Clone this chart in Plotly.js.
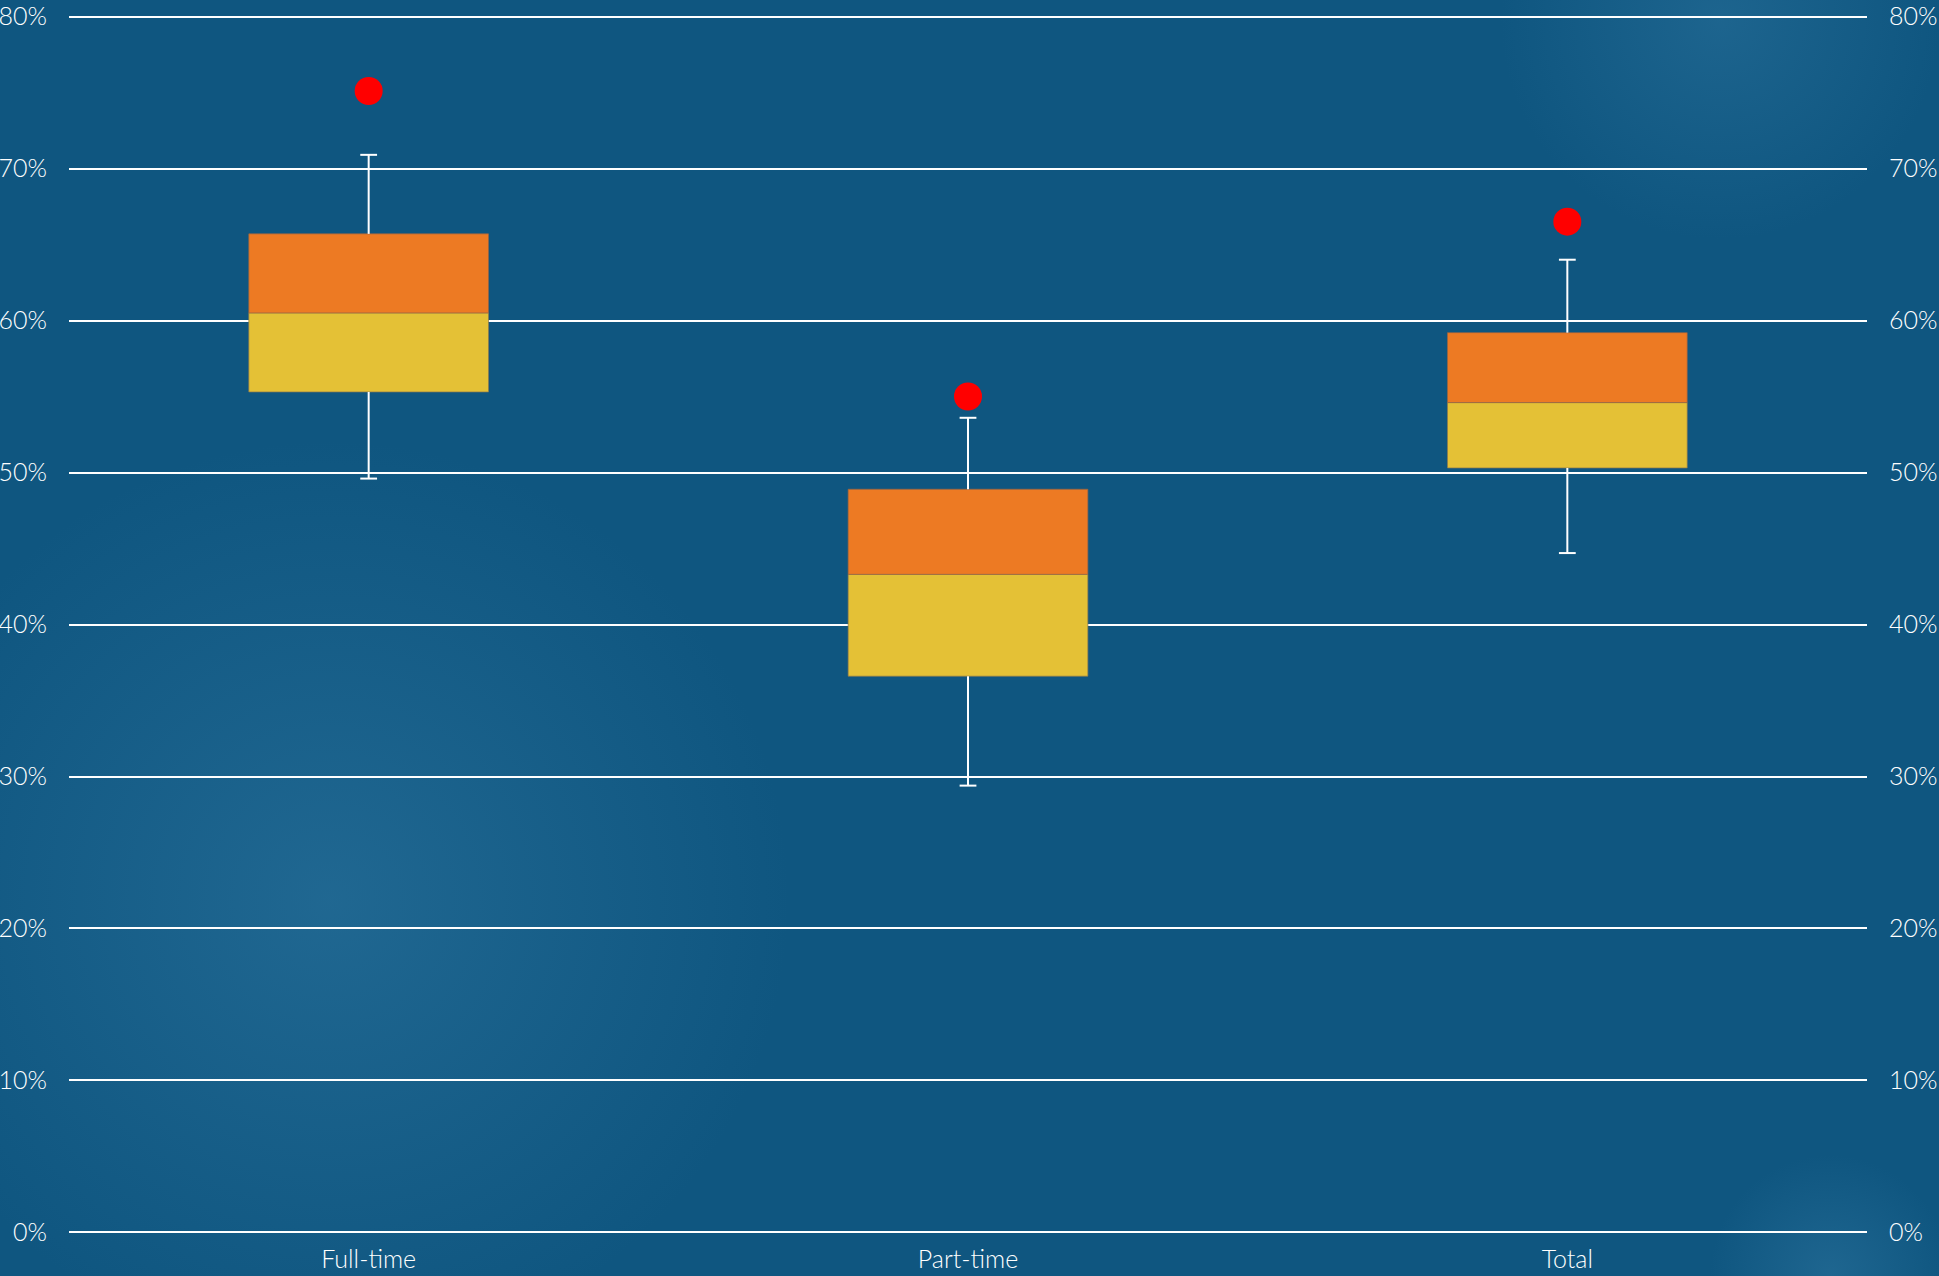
<!DOCTYPE html>
<html>
<head>
<meta charset="utf-8">
<script src="https://cdn.plot.ly/plotly-3.0.1.min.js"></script>
<style>
  html, body { margin: 0; padding: 0; width: 1939px; height: 1276px; overflow: hidden; }
  body {
    background:
      radial-gradient(circle at 330px 900px, rgba(46,118,160,0.55) 0px, rgba(46,118,160,0) 460px),
      radial-gradient(circle at 1720px 20px, rgba(46,118,160,0.45) 0px, rgba(46,118,160,0) 220px),
      radial-gradient(circle at 1830px 1275px, rgba(46,118,160,0.5) 0px, rgba(46,118,160,0) 120px),
      #0f5680;
  }
  #chart { width: 1939px; height: 1276px; }
</style>
</head>
<body>
<div id="chart"></div>
<script>
// Distribution per employment type (shares)
const categories   = ['Full-time', 'Part-time', 'Total'];
const lowerWhisker = [0.496, 0.294, 0.447];
const q1           = [0.553, 0.366, 0.503];
const median       = [0.605, 0.433, 0.546];
const q3           = [0.657, 0.489, 0.592];
const upperWhisker = [0.709, 0.536, 0.640];
const outliers     = [0.751, 0.550, 0.665];

const yTickVals = [0, 0.1, 0.2, 0.3, 0.4, 0.5, 0.6, 0.7, 0.8];
const yTickText = ['0%', '10%', '20%', '30%', '40%', '50%', '60%', '70%', '80%'];
// small padding so the 0% and 80% gridlines stay inside the plot area
const yRange = [-0.001, 0.801];

const ORANGE = '#ed7a23';
const YELLOW = '#e4c136';
const WHITE = '#ffffff';
const FONT = 'Lato, "Open Sans", sans-serif';

// lower half of each box: Q1 -> median
const lowerHalf = {
  type: 'bar', x: categories,
  base: q1, y: q1.map((v, i) => median[i] - v),
  width: 0.4,
  marker: { color: YELLOW, line: { color: 'rgba(140,120,80,0.7)', width: 1 } },
  hoverinfo: 'skip', showlegend: false
};
// upper half of each box: median -> Q3
const upperHalf = {
  type: 'bar', x: categories,
  base: median, y: median.map((v, i) => q3[i] - v),
  width: 0.4,
  marker: { color: ORANGE, line: { color: 'rgba(150,100,70,0.7)', width: 1 } },
  hoverinfo: 'skip', showlegend: false
};

// whisker stems (Q3 -> upper, Q1 -> lower)
const stemX = [], stemY = [];
categories.forEach((c, i) => {
  stemX.push(c, c, null, c, c, null);
  stemY.push(q3[i], upperWhisker[i], null, q1[i], lowerWhisker[i], null);
});
const stems = {
  type: 'scatter', mode: 'lines', x: stemX, y: stemY,
  line: { color: WHITE, width: 2 }, connectgaps: false,
  hoverinfo: 'skip', showlegend: false
};
// whisker caps
const caps = {
  type: 'scatter', mode: 'markers',
  x: categories.concat(categories),
  y: upperWhisker.concat(lowerWhisker),
  marker: { symbol: 'line-ew', size: 12, line: { color: WHITE, width: 2 } },
  hoverinfo: 'skip', showlegend: false
};
// outlier points (on the mirrored right-hand axis, same scale)
const outlierPts = {
  type: 'scatter', mode: 'markers', x: categories, y: outliers,
  yaxis: 'y2',
  marker: { color: '#ff0000', size: 28 },
  showlegend: false
};

const axisFont = { family: FONT, size: 25, color: WHITE, weight: 300 };

const layout = {
  width: 1939, height: 1276,
  margin: { l: 69, r: 72, t: 15, b: 42, pad: 0 },
  paper_bgcolor: 'rgba(0,0,0,0)',
  plot_bgcolor: 'rgba(0,0,0,0)',
  barmode: 'overlay',
  xaxis: {
    type: 'category', range: [-0.5, 2.5],
    showgrid: false, zeroline: false, showline: false, ticks: '',
    tickfont: axisFont, ticklabelstandoff: 8
  },
  yaxis: {
    range: yRange, tickvals: yTickVals, ticktext: yTickText,
    showgrid: true, gridcolor: WHITE, gridwidth: 2,
    zeroline: false, showline: false, ticks: '',
    tickfont: axisFont, ticklabelstandoff: 21
  },
  yaxis2: {
    overlaying: 'y', side: 'right', range: yRange,
    tickvals: yTickVals, ticktext: yTickText,
    showgrid: false, zeroline: false, showline: false, ticks: '',
    tickfont: axisFont, ticklabelstandoff: 21
  }
};

Plotly.newPlot('chart', [lowerHalf, upperHalf, stems, caps, outlierPts], layout, { displayModeBar: false, staticPlot: true });
</script>
</body>
</html>
